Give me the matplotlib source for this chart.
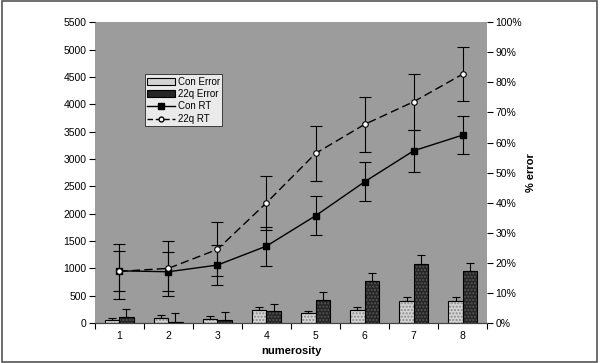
import matplotlib
matplotlib.use("Agg")
import matplotlib.pyplot as plt
import numpy as np
from matplotlib.ticker import PercentFormatter, FixedLocator
from matplotlib.patches import Rectangle, Patch
from matplotlib.lines import Line2D

numerosity = [1, 2, 3, 4, 5, 6, 7, 8]
con_rt = [955, 938, 1060, 1407, 1961, 2582, 3149, 3436]
con_rt_err = [363, 360, 360, 355, 360, 360, 380, 355]
q22_rt = [945, 1000, 1347, 2198, 3101, 3631, 4045, 4550]
q22_rt_err = [506, 500, 495, 490, 500, 508, 515, 497]
con_error = [0.9, 1.7, 1.2, 4.3, 3.2, 4.3, 7.4, 7.4]
con_error_err = [0.7, 1.0, 1.1, 1.0, 0.8, 1.0, 1.1, 1.1]
q22_error = [2.1, 0.3, 0.9, 3.9, 7.6, 14.0, 19.7, 17.3]
q22_error_err = [2.7, 2.9, 2.7, 2.6, 2.6, 2.5, 2.8, 2.6]

plt.rcParams['font.family'] = ['Liberation Sans', 'DejaVu Sans']
fig = plt.figure(figsize=(6, 3.63), dpi=100)
fig.patch.set_facecolor('white')
fig.patches.append(Rectangle((0.003, 0.004), 0.992, 0.992, transform=fig.transFigure,
                             fill=False, edgecolor='#555555', linewidth=1.2))

ax = fig.add_axes([0.158, 0.110, 0.654, 0.829])
ax.set_facecolor('#9c9c9c')
ax2 = ax.twinx()

x = np.array(numerosity, dtype=float)
w = 0.29
fs = 7.5

# bars on right (percent) axis
ax2.bar(x - w/2, con_error, w, color='#d4d4d4', hatch='.....', edgecolor='#8a8a8a', linewidth=0, zorder=2)
ax2.bar(x - w/2, con_error, w, fill=False, edgecolor='black', linewidth=0.8, zorder=3)
ax2.bar(x + w/2, q22_error, w, color='#262626', hatch='.....', edgecolor='#555555', linewidth=0, zorder=2)
ax2.bar(x + w/2, q22_error, w, fill=False, edgecolor='black', linewidth=0.8, zorder=3)
ax2.errorbar(x - w/2, con_error, yerr=[np.zeros(8), con_error_err], fmt='none', ecolor='black',
             elinewidth=0.8, capsize=3, capthick=0.8, zorder=4)
ax2.errorbar(x + w/2, q22_error, yerr=[np.zeros(8), q22_error_err], fmt='none', ecolor='black',
             elinewidth=0.8, capsize=3, capthick=0.8, zorder=4)

# RT lines (left-axis units, converted: 5500 ms == 100 %)
ax2.errorbar(x, np.array(q22_rt)/55.0, yerr=np.array(q22_rt_err)/55.0, color='black', linestyle=(0, (6, 3)),
             linewidth=1.0, marker='o', markersize=4, markerfacecolor='white', markeredgecolor='black',
             markeredgewidth=0.8, ecolor='black', elinewidth=0.8, capsize=4, capthick=0.8, zorder=6)
ax2.errorbar(x, np.array(con_rt)/55.0, yerr=np.array(con_rt_err)/55.0, color='black', linestyle='-',
             linewidth=1.0, marker='s', markersize=4.5, markerfacecolor='black', markeredgecolor='black',
             ecolor='black', elinewidth=0.8, capsize=4, capthick=0.8, zorder=5)

ax.set_xlim(0.5, 8.5)
ax.set_ylim(0, 5500)
ax2.set_ylim(0, 100)
ax.set_yticks(np.arange(0, 5501, 500))
ax2.set_yticks(np.arange(0, 101, 10))
ax2.yaxis.set_major_formatter(PercentFormatter(decimals=0))

ax.set_xticks(x)
ax.set_xticklabels([str(n) for n in numerosity])
ax.xaxis.set_minor_locator(FixedLocator(np.arange(0.5, 9, 1.0)))
ax.tick_params(axis='x', which='major', length=0, pad=6, labelsize=fs)
ax.tick_params(axis='x', which='minor', length=4, direction='out', width=0.8)
ax.tick_params(axis='y', length=4, direction='out', width=0.8, labelsize=fs, pad=2)
ax2.tick_params(axis='y', length=4, direction='out', width=0.8, labelsize=fs, pad=2)

for a in (ax, ax2):
    for s in ('top', 'right', 'left'):
        a.spines[s].set_visible(False)
    a.spines['bottom'].set_color('#444444')

ax.set_xlabel('numerosity', fontsize=8, fontweight='bold', labelpad=3)
ax2.set_ylabel('% error', fontsize=8, fontweight='bold', labelpad=3)

handles = [
    Patch(facecolor='#d4d4d4', edgecolor='black', linewidth=0.8),
    Patch(facecolor='#262626', edgecolor='black', linewidth=0.8),
    Line2D([], [], color='black', marker='s', markersize=4, linestyle='-', linewidth=1),
    Line2D([], [], color='black', marker='o', markersize=3.5, markerfacecolor='white', linestyle=(0, (4, 2)), linewidth=1),
]
leg = ax2.legend(handles, ['Con Error', '22q Error', 'Con RT', '22q RT'], loc='upper left',
                 bbox_to_anchor=(0.128, 0.827), fontsize=7, frameon=True, fancybox=False,
                 borderpad=0.25, labelspacing=0.25, handlelength=2.8, handletextpad=0.3,
                 borderaxespad=0)
leg.get_frame().set_edgecolor('black')
leg.get_frame().set_linewidth(0.6)

fig.savefig('out.png', dpi=100)
